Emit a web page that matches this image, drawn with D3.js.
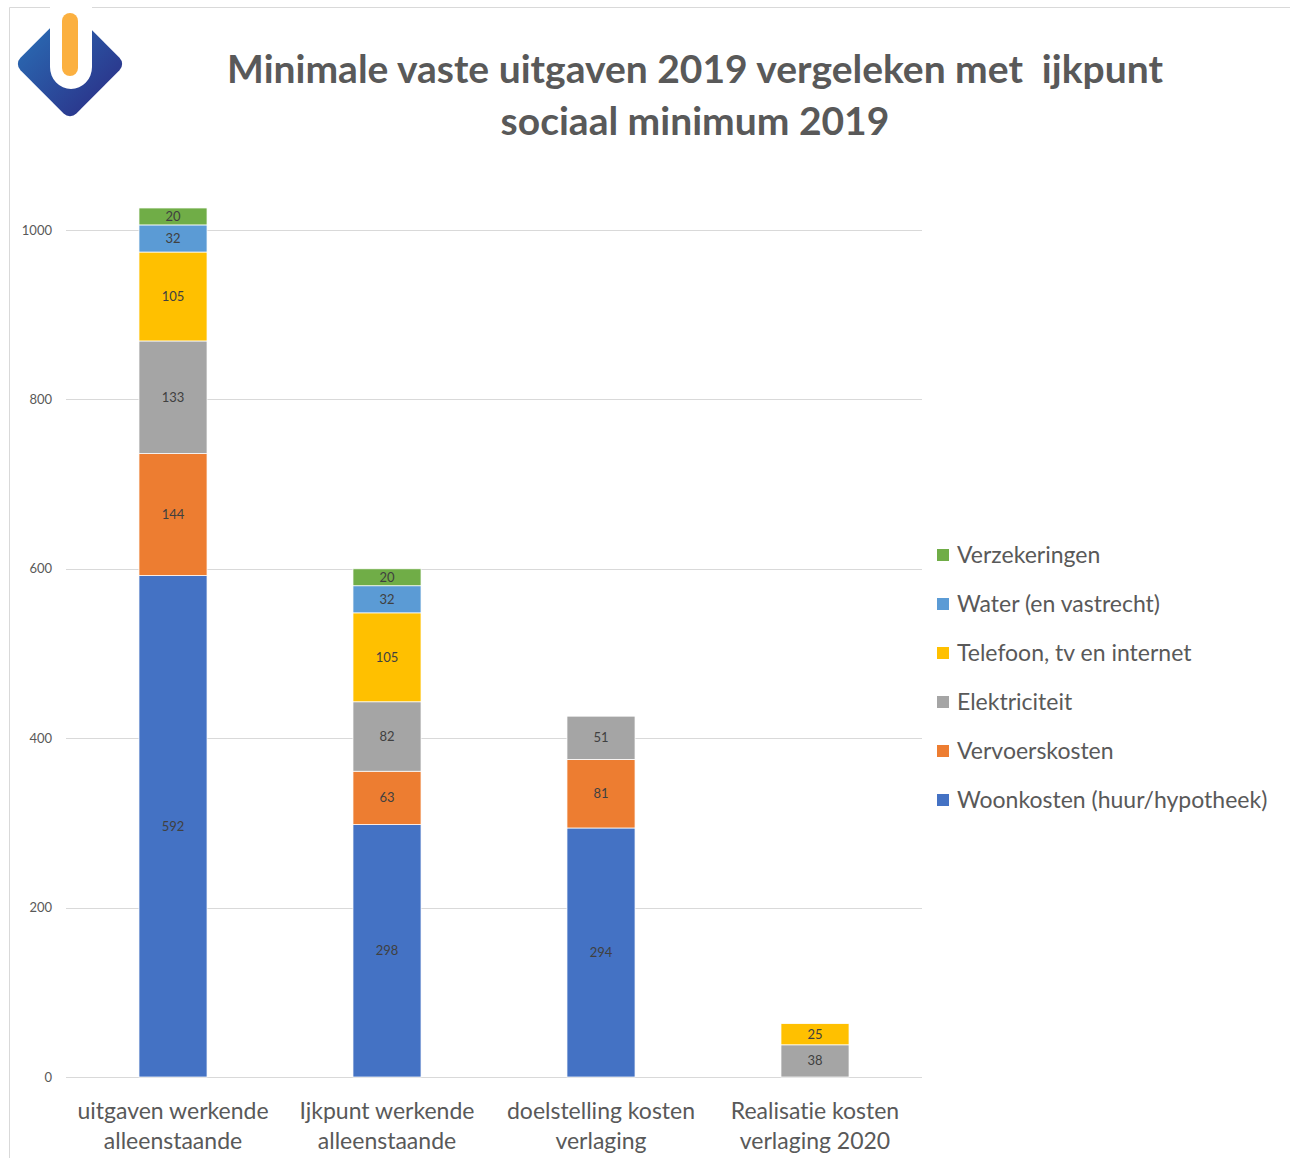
<!DOCTYPE html>
<html>
<head>
    <meta charset="utf-8">
    <title>Minimale vaste uitgaven 2019</title>
    <script src="https://d3js.org/d3.v7.min.js"></script>
    <style>
        body {
            margin: 0;
            background-color: white;
        }
        svg text {
            font-family: Lato, "Open Sans", sans-serif;
            font-variant-ligatures: none;
        }
    </style>
</head>
<body>
<div id="chart"></div>
<script>
    // categories (x axis, two lines each)
    const categories = [
        ["uitgaven werkende", "alleenstaande"],
        ["Ijkpunt werkende", "alleenstaande"],
        ["doelstelling kosten", "verlaging"],
        ["Realisatie kosten", "verlaging 2020"]
    ];

    // series, bottom to top
    const seriesNames = [
        "Woonkosten (huur/hypotheek)",
        "Vervoerskosten",
        "Elektriciteit",
        "Telefoon, tv en internet",
        "Water (en vastrecht)",
        "Verzekeringen"
    ];
    const seriesColors = ["#4472C4", "#ED7D31", "#A5A5A5", "#FFC000", "#5B9BD5", "#70AD47"];

    const woonkosten    = [592, 298, 294, 0];
    const vervoerskosten = [144, 63, 81, 0];
    const elektriciteit = [133, 82, 51, 38];
    const telefoon      = [105, 105, 0, 25];
    const water         = [32, 32, 0, 0];
    const verzekeringen = [20, 20, 0, 0];

    const yTicks = [0, 200, 400, 600, 800, 1000];

    const seriesValues = [woonkosten, vervoerskosten, elektriciteit, telefoon, water, verzekeringen];

    // build table for d3.stack
    const table = categories.map((c, i) => {
        const row = { idx: i };
        seriesNames.forEach((s, j) => { row[s] = seriesValues[j][i]; });
        return row;
    });

    const W = 1290, H = 1158;
    const plot = { left: 66, right: 922, bottom: 1077 };

    const svg = d3.select("#chart")
        .append("svg")
        .attr("width", W)
        .attr("height", H);

    // frame lines
    svg.append("line")
        .attr("x1", 9.5).attr("x2", W).attr("y1", 7.5).attr("y2", 7.5)
        .attr("stroke", "#d9d9d9");
    svg.append("line")
        .attr("x1", 9.5).attr("x2", 9.5).attr("y1", 7.5).attr("y2", H)
        .attr("stroke", "#d9d9d9");

    // logo
    const defs = svg.append("defs");
    const grad = defs.append("linearGradient").attr("id", "logoGrad")
        .attr("x1", "0%").attr("x2", "100%").attr("y1", "0%").attr("y2", "0%");
    grad.append("stop").attr("offset", "0%").attr("stop-color", "#2a63ad");
    grad.append("stop").attr("offset", "100%").attr("stop-color", "#2b3a8f");

    const logo = svg.append("g").attr("transform", "translate(70,64)");
    logo.append("rect")
        .attr("x", -39.5).attr("y", -39.5).attr("width", 79).attr("height", 79)
        .attr("rx", 9)
        .attr("transform", "rotate(45)")
        .attr("fill", "url(#logoGrad)");
    logo.append("path")
        .attr("d", "M-20,-70 L-20,3 A20,21 0 0 0 22,3 L22,-70 Z")
        .attr("fill", "white");
    logo.append("rect")
        .attr("x", -8).attr("y", -51).attr("width", 16).attr("height", 63)
        .attr("rx", 8)
        .attr("fill", "#FBB040");

    // title
    const title = svg.append("text")
        .attr("text-anchor", "middle")
        .attr("fill", "#595959")
        .style("font-size", "39px")
        .style("font-weight", "bold");
    title.append("tspan").attr("x", 695).attr("y", 83).attr("xml:space", "preserve")
        .text("Minimale vaste uitgaven 2019 vergeleken met  ijkpunt");
    title.append("tspan").attr("x", 695).attr("y", 135)
        .text("sociaal minimum 2019");

    // scales
    const x = d3.scaleBand()
        .domain(categories.map((c, i) => i))
        .range([plot.left, plot.right])
        .paddingInner(0.682)
        .paddingOuter(0.341);

    const y = d3.scaleLinear()
        .domain([0, 1000])
        .range([1077, 230]);

    // gridlines
    svg.append("g")
        .selectAll("line")
        .data(yTicks)
        .join("line")
        .attr("x1", plot.left)
        .attr("x2", plot.right)
        .attr("y1", d => Math.round(y(d)) + 0.5)
        .attr("y2", d => Math.round(y(d)) + 0.5)
        .attr("stroke", "#d9d9d9")
        .attr("stroke-width", 1);

    // y axis labels
    const yAxis = svg.append("g")
        .attr("transform", "translate(52,0)")
        .call(d3.axisLeft(y).tickValues(yTicks).tickFormat(d3.format("d")).tickSize(0).tickPadding(0));
    yAxis.select(".domain").remove();
    yAxis.selectAll("text")
        .attr("fill", "#595959")
        .style("font-size", "13px");

    // stacked bars
    const stack = d3.stack().keys(seriesNames);
    const layers = stack(table);

    const layerG = svg.append("g")
        .selectAll("g")
        .data(layers)
        .join("g")
        .attr("fill", (d, i) => seriesColors[i]);

    layerG.selectAll("rect")
        .data(d => d.filter(s => s[1] - s[0] > 0))
        .join("rect")
        .attr("x", d => x(d.data.idx))
        .attr("width", x.bandwidth())
        .attr("y", d => y(d[1]))
        .attr("height", d => y(d[0]) - y(d[1]))
        .attr("stroke", "white")
        .attr("stroke-width", 0.75);

    // data labels
    layerG.selectAll("text")
        .data(d => d.filter(s => s[1] - s[0] > 0))
        .join("text")
        .attr("x", d => x(d.data.idx) + x.bandwidth() / 2)
        .attr("y", d => (y(d[0]) + y(d[1])) / 2)
        .attr("dy", "0.35em")
        .attr("text-anchor", "middle")
        .attr("fill", "#404040")
        .style("font-size", "13px")
        .text(d => d[1] - d[0]);

    // x axis (ticks hidden, labels drawn as two lines)
    const xAxis = svg.append("g")
        .attr("transform", "translate(0,1077)")
        .call(d3.axisBottom(x).tickSize(0).tickFormat(""));
    xAxis.select(".domain").remove();

    const catLabels = svg.append("g")
        .selectAll("text")
        .data(categories)
        .join("text")
        .attr("text-anchor", "middle")
        .attr("fill", "#595959")
        .style("font-size", "23px");
    catLabels.each(function (c, i) {
        const t = d3.select(this);
        c.forEach((line, k) => {
            t.append("tspan")
                .attr("x", x(i) + x.bandwidth() / 2)
                .attr("y", 1119 + k * 30)
                .text(line);
        });
    });

    // legend (top entry is last series)
    const legendItems = seriesNames.map((s, i) => ({ name: s, color: seriesColors[i] })).reverse();
    const legend = svg.append("g")
        .selectAll("g")
        .data(legendItems)
        .join("g")
        .attr("transform", (d, i) => `translate(937,${555 + i * 49})`);
    legend.append("rect")
        .attr("x", 0).attr("y", -6)
        .attr("width", 12).attr("height", 12)
        .attr("fill", d => d.color);
    legend.append("text")
        .attr("x", 20)
        .attr("y", 0)
        .attr("dy", "0.35em")
        .attr("fill", "#595959")
        .style("font-size", "23px")
        .text(d => d.name);
</script>
</body>
</html>
